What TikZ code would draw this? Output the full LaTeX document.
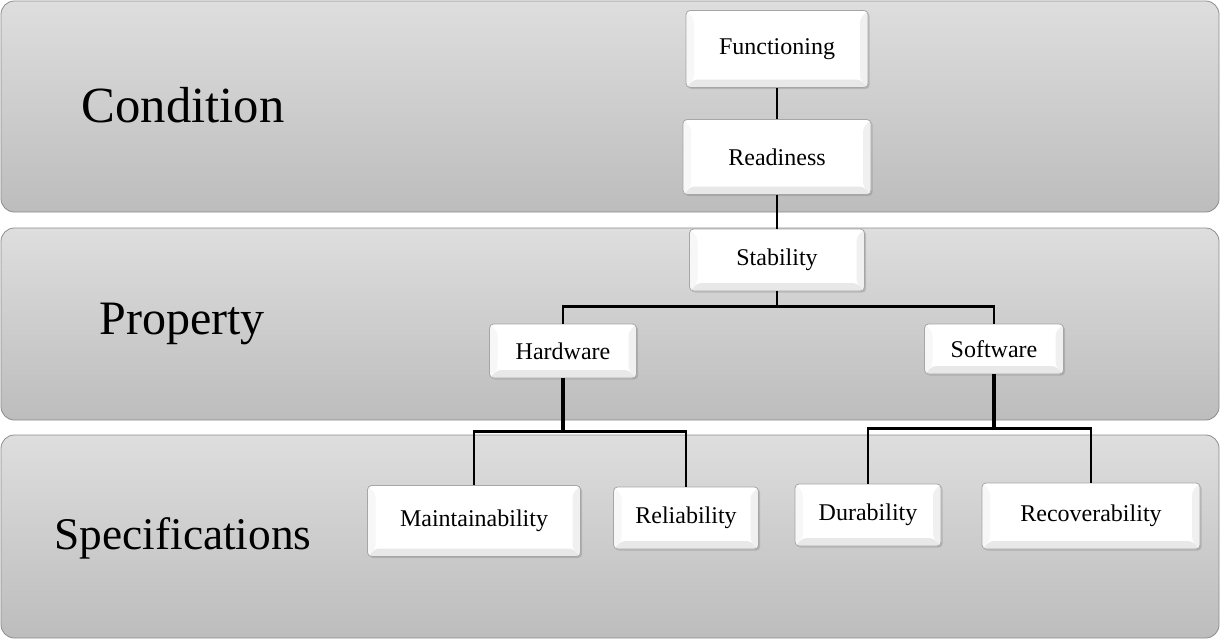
\documentclass[tikz,border=0pt]{standalone}
\usepackage{fontspec}
\setmainfont{Liberation Serif}
\usetikzlibrary{shadows}

\tikzset{
  band/.style={draw=black!45, rounded corners=10pt, top color=black!13, bottom color=black!26, line width=0.6pt},
  bandlabel/.style={font=\fontsize{38}{40}\selectfont},
  bevelbox/.style={draw=black!35, fill=white, rounded corners=3pt, inner sep=0pt, line width=0.6pt,
    font=\fontsize{18}{20}\selectfont,
    drop shadow={opacity=0.35, shadow xshift=1.2pt, shadow yshift=-1.2pt},
    path picture={
      \fill[black!9] (path picture bounding box.south west) -- ([shift={(6pt,6pt)}]path picture bounding box.south west) -- ([shift={(-6pt,6pt)}]path picture bounding box.south east) -- (path picture bounding box.south east) -- cycle;
      \fill[black!6] (path picture bounding box.south east) -- ([shift={(-6pt,6pt)}]path picture bounding box.south east) -- ([shift={(-6pt,-6pt)}]path picture bounding box.north east) -- (path picture bounding box.north east) -- cycle;
      \fill[black!3] (path picture bounding box.north west) -- ([shift={(6pt,-6pt)}]path picture bounding box.north west) -- ([shift={(6pt,6pt)}]path picture bounding box.south west) -- (path picture bounding box.south west) -- cycle;
    }},
  link/.style={line width=2pt, black}
}

\begin{document}
\begin{tikzpicture}[x=0.75pt, y=-0.75pt]
			%%%%% START %%%%%
			\useasboundingbox (0, 0) rectangle (1220, 640);
			
			% bands
			\draw[band] (1, 1) rectangle (1219, 212);
			\draw[band] (1, 228) rectangle (1219, 420);
			\draw[band] (1, 435) rectangle (1219, 638);
			
			\node[bandlabel] (condition) at (183, 105) {Condition};
			\node[bandlabel, font=\fontsize{36}{38}\selectfont] (property) at (182, 324) {Property};
			\node[bandlabel, font=\fontsize{34}{36}\selectfont] (specs) at (183, 538) {Specifications};
			
			% condition level
			\node[bevelbox, minimum width=136.5pt, minimum height=57.75pt] (func) at (777, 49) {Functioning};
			\node[bevelbox, minimum width=141pt, minimum height=56.25pt] (ready) at (777, 157) {Readiness};
			
			% property level
			\node[bevelbox, minimum width=131.25pt, minimum height=46.5pt] (stab) at (777, 260) {Stability};
			\node[bevelbox, minimum width=110.25pt, minimum height=40.5pt] (hw) at (563, 351) {Hardware};
			\node[bevelbox, minimum width=104.25pt, minimum height=37.5pt] (sw) at (994, 349) {Software};
			
			% specifications level
			\node[bevelbox, minimum width=159.75pt, minimum height=53.25pt] (maint) at (474, 521) {Maintainability};
			\node[bevelbox, minimum width=108.75pt, minimum height=46.5pt] (rel) at (686, 518) {Reliability};
			\node[bevelbox, minimum width=109.5pt, minimum height=46.5pt] (dur) at (868, 515) {Durability};
			\node[bevelbox, minimum width=163.5pt, minimum height=49.5pt] (recov) at (1091, 516) {Recoverability};
			
			% connectors
			\draw[link] (func) -- (ready);
			\draw[link] (ready) -- (stab);
			\draw[link] (stab.south) -- ++(0, 15) -| (hw.north);
			\draw[link] (stab.south) ++(0, 15) -| (sw.north);
			\draw[link, line width=2.8pt] (hw.south) -- ++(0, 53);
			\draw[link] (hw.south) ++(0, 53) -| (maint.north);
			\draw[link] (hw.south) ++(0, 53) -| (rel.north);
			\draw[link, line width=2.4pt] (sw.south) -- ++(0, 54);
			\draw[link] (sw.south) ++(0, 54) -| (dur.north);
			\draw[link] (sw.south) ++(0, 54) -| (recov.north);
			
			%%%%% END %%%%%
\end{tikzpicture}
\end{document}
